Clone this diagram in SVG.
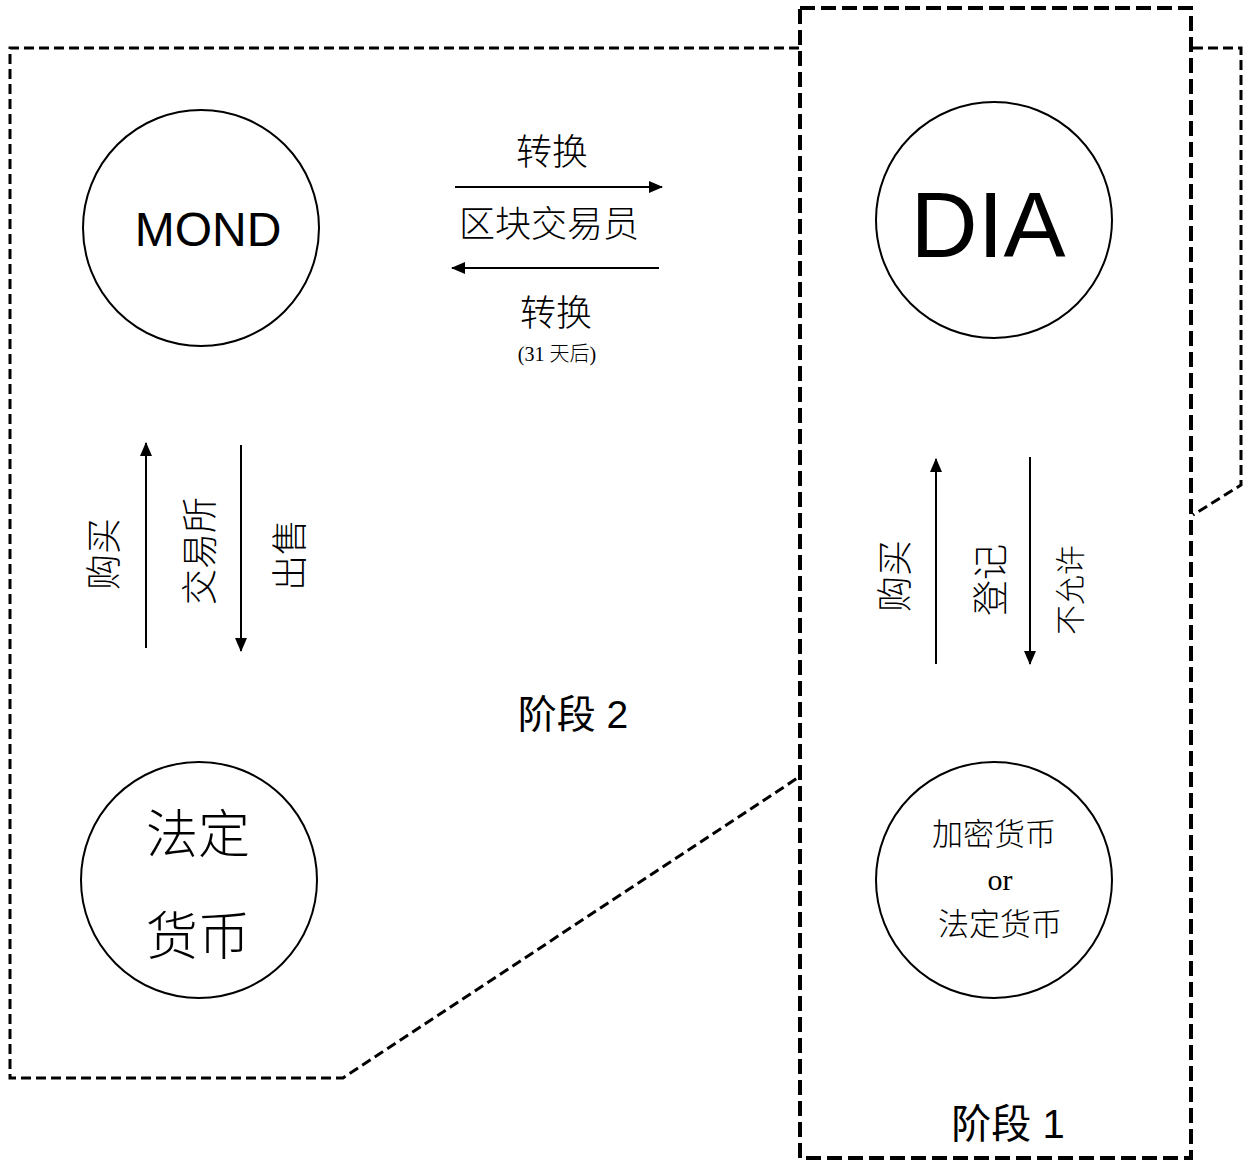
<svg xmlns="http://www.w3.org/2000/svg" width="1247" height="1162" viewBox="0 0 1247 1162">
<style>
.node circle{fill:#fff;stroke:#000;stroke-width:2}
.serif{font-family:"Liberation Serif","Noto Sans CJK SC",serif;font-weight:300;fill:#000}
.sans{font-family:"Liberation Sans","Noto Sans CJK SC",sans-serif;fill:#000}
.arr{stroke:#000;stroke-width:2;fill:none;marker-end:url(#ah)}
.st2{fill:none;stroke:#000;stroke-width:3;stroke-dasharray:10 5}
.st1{fill:none;stroke:#000;stroke-width:4;stroke-dasharray:15 6}
</style>
<defs>
<marker id="ah" viewBox="0 0 14 12" refX="13" refY="6" markerWidth="14" markerHeight="12" markerUnits="userSpaceOnUse" orient="auto">
<path d="M0,0 L14,6 L0,12 Z" fill="#000"/>
</marker>
</defs>
<rect width="1247" height="1162" fill="#fff"/>
<g id="stage2">
<path class="st2" d="M799,48 L10,48 L10,1078 L343,1078 L799,777"/>
<path class="st2" d="M1193,48 L1241,48 L1241,485 L1193,515"/>
<text class="sans" x="573" y="728" font-size="39" text-anchor="middle">阶段 2</text>
</g>
<g id="stage1">
<rect class="st1" x="800" y="8" width="391" height="1150"/>
<text class="sans" x="1008" y="1138" font-size="40" text-anchor="middle">阶段 1</text>
</g>
<g id="mond" class="node">
<circle cx="201" cy="228" r="118"/>
<text class="sans" x="208" y="246" font-size="48" text-anchor="middle">MOND</text>
</g>
<g id="dia" class="node">
<circle cx="994" cy="220" r="118"/>
<text class="sans" x="988" y="257" font-size="93" text-anchor="middle">DIA</text>
</g>
<g id="fiat" class="node">
<circle cx="199" cy="880" r="118"/>
<text class="serif" x="198" y="853" font-size="52" text-anchor="middle">法定</text>
<text class="serif" x="198" y="955" font-size="52" text-anchor="middle">货币</text>
</g>
<g id="crypto" class="node">
<circle cx="994" cy="880" r="118"/>
<text class="serif" x="994" y="845" font-size="31" text-anchor="middle">加密货币</text>
<text class="serif" x="1000" y="890" font-size="30" text-anchor="middle">or</text>
<text class="serif" x="1000" y="935" font-size="31" text-anchor="middle">法定货币</text>
</g>
<g id="connectors">
<line class="arr" x1="455" y1="187" x2="662" y2="187"/>
<line class="arr" x1="659" y1="268" x2="452" y2="268"/>
<line class="arr" x1="146" y1="648" x2="146" y2="443"/>
<line class="arr" x1="241" y1="445" x2="241" y2="651"/>
<line class="arr" x1="936" y1="664" x2="936" y2="459"/>
<line class="arr" x1="1030" y1="457" x2="1030" y2="664"/>
</g>
<g id="labels">
<text class="serif" x="552" y="165" font-size="36" text-anchor="middle">转换</text>
<text class="serif" x="549" y="237" font-size="36" text-anchor="middle">区块交易员</text>
<text class="serif" x="556" y="326" font-size="36" text-anchor="middle">转换</text>
<text class="serif" x="557" y="361" font-size="20" text-anchor="middle">(31 天后)</text>
<text class="serif" font-size="36" text-anchor="middle" transform="translate(117,554) rotate(-90)">购买</text>
<text class="serif" font-size="36" text-anchor="middle" transform="translate(213,551) rotate(-90)">交易所</text>
<text class="serif" font-size="36" text-anchor="middle" transform="translate(303,555) rotate(-90)">出售</text>
<text class="serif" font-size="36" text-anchor="middle" transform="translate(908,576) rotate(-90)">购买</text>
<text class="serif" font-size="36" text-anchor="middle" transform="translate(1004,580) rotate(-90)">登记</text>
<text class="serif" font-size="30" text-anchor="middle" transform="translate(1081,590) rotate(-90)">不允许</text>
</g>
</svg>
